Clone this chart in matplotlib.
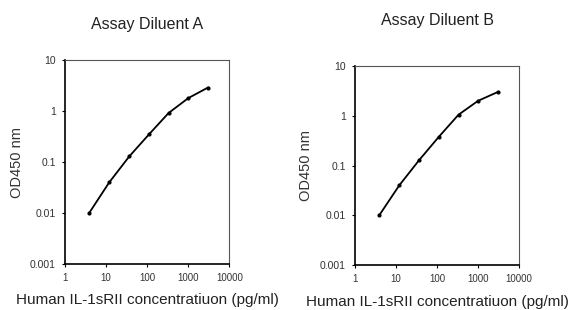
import matplotlib
matplotlib.use("Agg")
import matplotlib.pyplot as plt
from matplotlib.ticker import FixedLocator, FixedFormatter, NullLocator

plt.rcParams['font.family'] = ['Liberation Sans', 'DejaVu Sans']

conc = [3.9, 12, 37, 111, 333, 1000, 3000]
od_a = [0.01, 0.04, 0.13, 0.35, 0.92, 1.8, 2.9]
od_b = [0.01, 0.04, 0.13, 0.38, 1.05, 2.0, 3.0]
titles = ["Assay Diluent A", "Assay Diluent B"]
xticks = [1, 10, 100, 1000, 10000]
xtick_labels = ["1", "10", "100", "1000", "10000"]
yticks = [0.001, 0.01, 0.1, 1, 10]
ytick_labels = ["0.001", "0.01", "0.1", "1", "10"]
xlabel = "Human IL-1sRII concentratiuon (pg/ml)"
ylabel = "OD450 nm"

fig = plt.figure(figsize=(5.68, 3.10), dpi=100)
positions = [[0.114, 0.148, 0.290, 0.658], [0.625, 0.145, 0.289, 0.642]]
title_y = [24, 20]
xlabel_y = [300, 302]
ylabel_x = [17, 306]

for i, (pos, od) in enumerate(zip(positions, [od_a, od_b])):
    ax = fig.add_axes(pos)
    ax.plot(conc, od, color='black', lw=1.3, marker='o', ms=2)
    ax.set_xscale('log')
    ax.set_yscale('log')
    ax.set_xlim(1, 10000)
    ax.set_ylim(0.001, 10)
    ax.xaxis.set_major_locator(FixedLocator(xticks))
    ax.xaxis.set_major_formatter(FixedFormatter(xtick_labels))
    ax.yaxis.set_major_locator(FixedLocator(yticks))
    ax.yaxis.set_major_formatter(FixedFormatter(ytick_labels))
    ax.xaxis.set_minor_locator(NullLocator())
    ax.yaxis.set_minor_locator(NullLocator())
    ax.tick_params(axis='both', which='major', length=2.5, width=0.8,
                   labelsize=7, labelcolor='#333333', pad=4)
    ax.tick_params(axis='y', labelsize=7.5)
    ax.spines['left'].set_linewidth(1.2)
    ax.spines['bottom'].set_linewidth(1.2)
    ax.spines['top'].set_linewidth(0.8)
    ax.spines['right'].set_linewidth(0.8)
    ax.spines['top'].set_color('#555555')
    ax.spines['right'].set_color('#555555')
    cx = pos[0] + pos[2] / 2
    cy = pos[1] + pos[3] / 2
    fig.text(ylabel_x[i] / 568, cy, ylabel, ha='center', va='center',
             rotation=90, fontsize=10.5, color='#333333')
    fig.text(cx, 1 - title_y[i] / 310, titles[i], ha='center', va='center',
             fontsize=11.5, color='#222222')
    fig.text(cx, 1 - xlabel_y[i] / 310, xlabel, ha='center', va='center',
             fontsize=11, color='#222222')

fig.savefig("out.png", dpi=100)
